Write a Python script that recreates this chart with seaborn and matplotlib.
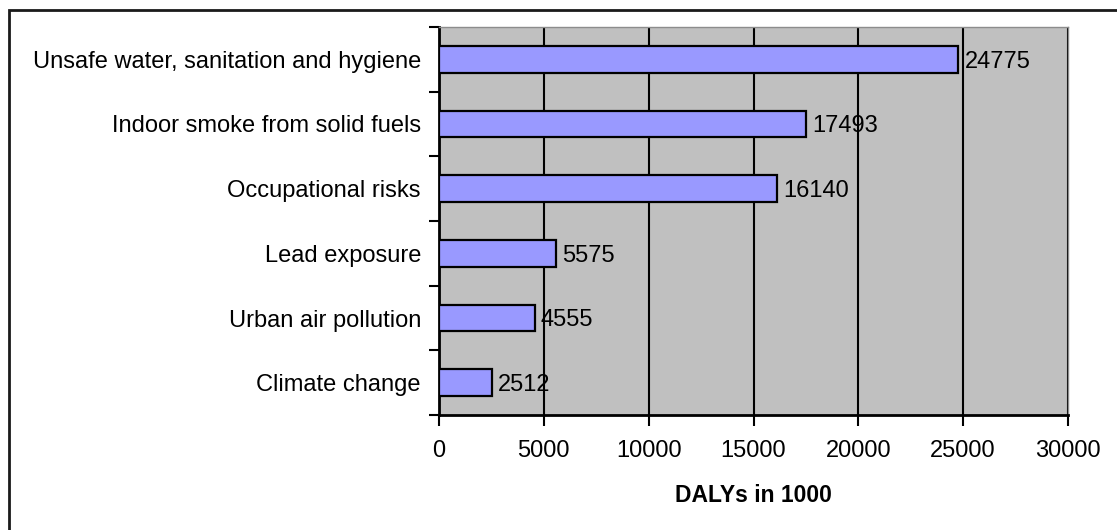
import matplotlib
matplotlib.use("Agg")
import matplotlib.pyplot as plt
import matplotlib.patches as mpatches
from matplotlib.ticker import FixedLocator
import numpy as np
import pandas as pd
import seaborn as sns

# Environmental risk factors and their burden (DALYs, thousands)
risk_factors = [
    "Unsafe water, sanitation and hygiene",
    "Indoor smoke from solid fuels",
    "Occupational risks",
    "Lead exposure",
    "Urban air pollution",
    "Climate change",
]
dalys = [24775, 17493, 16140, 5575, 4555, 2512]
x_ticks = [0, 5000, 10000, 15000, 20000, 25000, 30000]
x_label = "DALYs in 1000"

sns.set_theme(style="white")
plt.rcParams["font.family"] = ["Liberation Sans", "DejaVu Sans"]

df = pd.DataFrame({"risk": risk_factors, "dalys": dalys})

fig = plt.figure(figsize=(11.17, 5.30), dpi=100)
ax = fig.add_axes([439 / 1117, 1 - 415 / 530, (1068 - 439) / 1117, (415 - 27) / 530])
ax.set_facecolor("#C0C0C0")

sns.barplot(data=df, x="dalys", y="risk", orient="h", color="#9999FF",
            saturation=1, edgecolor="black", linewidth=1.6, width=0.41, ax=ax,
            zorder=3)

ax.set_xlim(0, 30000)
ax.set_ylim(len(risk_factors) - 0.5, -0.5)
ax.xaxis.set_major_locator(FixedLocator(x_ticks))
ax.set_xticklabels([str(t) for t in x_ticks], fontsize=17, color="black")
ax.grid(axis="x", color="black", linewidth=1.5, zorder=1)
ax.set_axisbelow(True)

# Category labels without ticks; short ticks at the category boundaries
ax.set_yticks(range(len(risk_factors)))
ax.set_yticklabels(risk_factors, va="center_baseline")
ax.tick_params(axis="y", which="major", length=0, pad=13, labelsize=17,
               labelcolor="black")
ax.yaxis.set_minor_locator(FixedLocator(np.arange(-0.5, len(risk_factors), 1.0)))
ax.tick_params(axis="y", which="minor", length=7, width=1.5, color="black",
               direction="out", left=True)
ax.tick_params(axis="x", which="major", length=8, width=1.5, color="black",
               direction="out", bottom=True, pad=10)

ax.set_ylabel("")
ax.set_xlabel(x_label, fontsize=16.5, fontweight="bold", labelpad=16,
              color="black")

for side in ["top", "right"]:
    ax.spines[side].set_color("#8C8C8C")
    ax.spines[side].set_linewidth(1.0)
for side in ["left", "bottom"]:
    ax.spines[side].set_color("black")
    ax.spines[side].set_linewidth(2.0)

# Value labels at the end of each bar
for i, v in enumerate(dalys):
    ax.text(v + 300, i, str(v), va="center_baseline", ha="left", fontsize=17,
            color="black", zorder=4)

# Frame around the chart
fig.patches.append(mpatches.Rectangle((9.5 / 1117, -0.1), 1.2, 1 - 9.5 / 530 + 0.1,
                                      transform=fig.transFigure, fill=False,
                                      edgecolor="#1a1a1a", linewidth=2.0))

fig.savefig("out.png", dpi=100)
